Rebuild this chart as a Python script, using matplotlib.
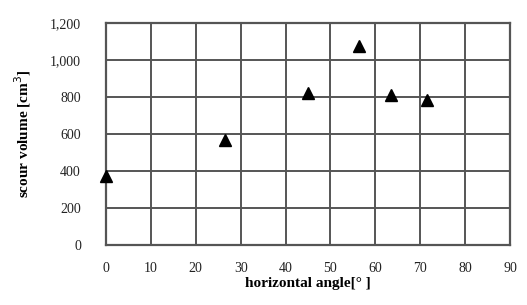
import matplotlib
matplotlib.use('Agg')
import matplotlib.pyplot as plt
from matplotlib.ticker import FuncFormatter

# horizontal angle [deg] vs scour volume [cm3]
angle = [0, 26.6, 45, 56.3, 63.4, 71.6]
volume = [375, 568, 822, 1075, 812, 785]

plt.rcParams['font.family'] = ['Liberation Serif', 'DejaVu Serif']

fig = plt.figure(figsize=(5.27, 3.05), dpi=100)
ax = fig.add_axes([0.201, 0.197, 0.767, 0.728])

ax.plot(angle, volume, linestyle='none', marker='^', color='black',
        markersize=8, clip_on=False, zorder=5)

ax.set_xlim(0, 90)
ax.set_ylim(0, 1200)
ax.set_xticks(range(0, 91, 10))
ax.set_yticks(range(0, 1201, 200))
ax.yaxis.set_major_formatter(FuncFormatter(lambda v, p: '{:,.0f}'.format(v)))
ax.tick_params(length=0, labelsize=10, colors='#222222')
ax.tick_params(axis='x', pad=12)
ax.tick_params(axis='y', pad=18)
ax.grid(True, color='#555555', linewidth=1.4)
ax.set_axisbelow(True)
for s in ax.spines.values():
    s.set_color('#555555')
    s.set_linewidth(1.6)

ax.set_xlabel('horizontal angle[° ]', fontsize=11, fontweight='bold', labelpad=2)
ax.set_ylabel('scour volume [cm$^3$]', fontsize=11, fontweight='bold', labelpad=12)

fig.savefig('out.png', dpi=100)
